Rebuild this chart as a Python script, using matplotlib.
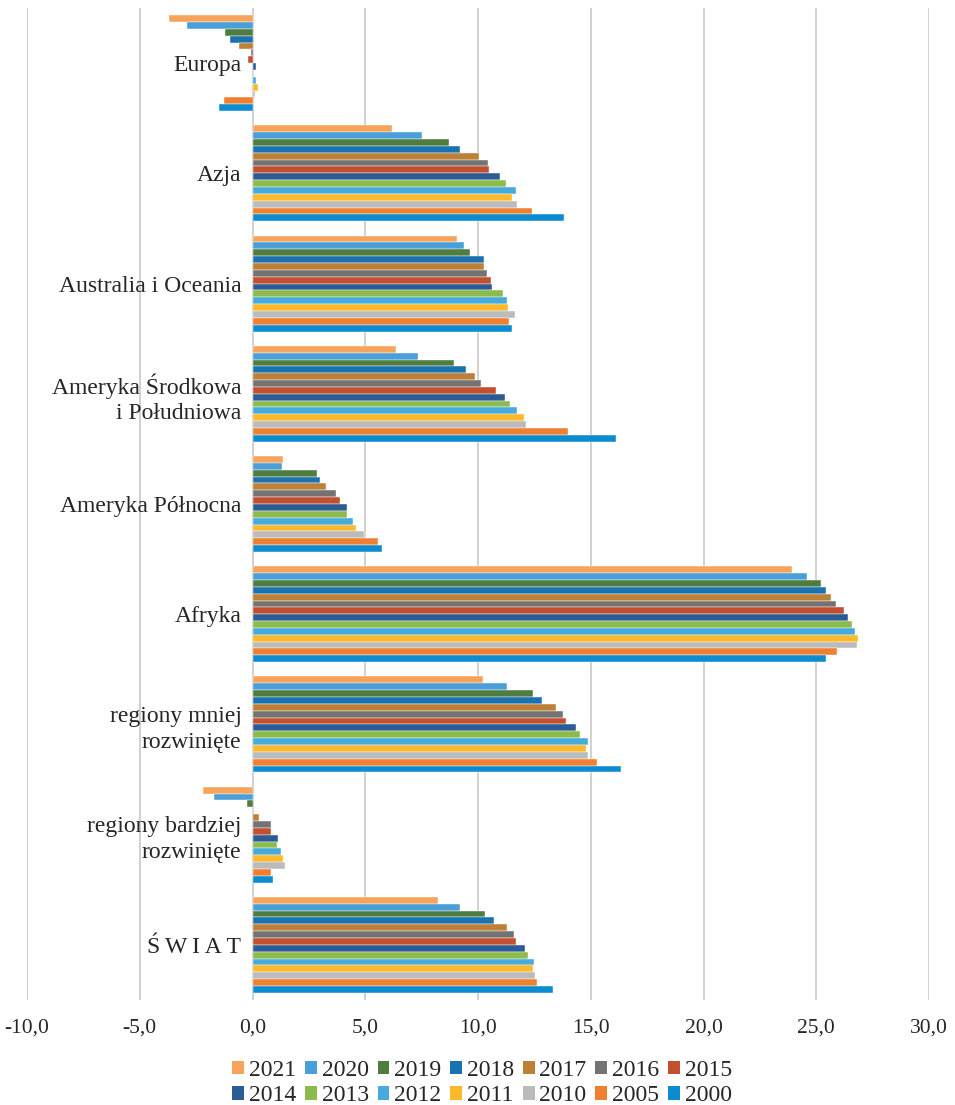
import matplotlib
matplotlib.use("Agg")
import matplotlib.pyplot as plt
from matplotlib.ticker import FuncFormatter, MultipleLocator
from matplotlib.patches import Patch
import numpy as np

plt.rcParams['font.family'] = ['Liberation Serif', 'DejaVu Serif']

categories = ["Europa", "Azja", "Australia i Oceania",
              "Ameryka Środkowa\ni Południowa", "Ameryka Północna", "Afryka",
              "regiony mniej\nrozwinięte", "regiony bardziej\nrozwinięte",
              "Ś\u2009W\u2009I\u2009A\u2009T"]

years = ["2021", "2020", "2019", "2018", "2017", "2016", "2015",
         "2014", "2013", "2012", "2011", "2010", "2005", "2000"]

colors = ["#F6A35C", "#4A9FD8", "#4F7D40", "#1B72B0", "#BE7F36", "#737373", "#C2502F",
          "#2B5C96", "#8CBA4B", "#45ABDD", "#FBB92B", "#BBBBBB", "#EF8031", "#0B8CD1"]

# values per category, in order of years above (2021 ... 2000)
europa = [-3.7, -2.9, -1.2, -1.0, -0.6, -0.05, -0.22, 0.16, 0.03, 0.15, 0.24, 0.13, -1.25, -1.47]
azja = [6.2, 7.5, 8.7, 9.2, 10.06, 10.44, 10.49, 10.99, 11.24, 11.68, 11.52, 11.74, 12.39, 13.8]
australia = [9.09, 9.39, 9.66, 10.25, 10.27, 10.41, 10.56, 10.60, 11.09, 11.28, 11.33, 11.64, 11.37, 11.52]
ameryka_sr = [6.37, 7.35, 8.95, 9.48, 9.88, 10.15, 10.80, 11.18, 11.42, 11.73, 12.06, 12.15, 14.01, 16.13]
ameryka_pn = [1.36, 1.32, 2.84, 2.99, 3.27, 3.70, 3.89, 4.19, 4.20, 4.47, 4.59, 4.95, 5.57, 5.73]
afryka = [23.91, 24.57, 25.19, 25.42, 25.65, 25.87, 26.22, 26.43, 26.59, 26.74, 26.83, 26.79, 25.94, 25.44]
mniej = [10.20, 11.30, 12.42, 12.86, 13.48, 13.78, 13.91, 14.33, 14.52, 14.86, 14.77, 14.89, 15.27, 16.32]
bardziej = [-2.21, -1.71, -0.25, 0.0, 0.31, 0.81, 0.83, 1.15, 1.09, 1.26, 1.36, 1.45, 0.83, 0.90]
swiat = [8.21, 9.20, 10.33, 10.73, 11.29, 11.60, 11.69, 12.07, 12.20, 12.49, 12.42, 12.52, 12.61, 13.34]

data = np.array([europa, azja, australia, ameryka_sr, ameryka_pn, afryka, mniej, bardziej, swiat])

fig = plt.figure(figsize=(9.55, 11.05), dpi=100)
ax = fig.add_axes([27/955, 1 - 1000/1105, (929 - 27)/955, (1000 - 8)/1105])

n_cat, n_ser = data.shape
group = 0.87
slot = group / n_ser
idx = np.arange(n_cat)
for j in range(n_ser):
    ypos = idx - group/2 + (j + 0.5) * slot
    ax.barh(ypos, data[:, j], height=slot, color=colors[j],
            edgecolor='white', linewidth=0.3, zorder=3)

ax.spines['left'].set_position(('data', 0))
for s in ['left', 'right', 'top', 'bottom']:
    ax.spines[s].set_visible(False)

ax.set_ylim(n_cat - 0.5, -0.5)
ax.set_xlim(-10, 30)
ax.xaxis.set_major_locator(MultipleLocator(5))
ax.xaxis.set_major_formatter(FuncFormatter(lambda v, p: f"{v:.1f}".replace('.', ',')))
ax.grid(axis='x', color='#C8C8C8', linewidth=1.2, zorder=0)
ax.grid(axis='y', visible=False)

ax.set_yticks(idx)
ax.set_yticklabels(categories, fontsize=17, color='#262626', linespacing=1.3)
ax.tick_params(axis='y', length=0, pad=8)
ax.tick_params(axis='x', length=0, pad=13, labelsize=15.5, labelcolor='#262626')

handles = [Patch(facecolor=c, edgecolor='none') for c in colors]
# reorder for row-major filling across 2 rows x 7 columns
order = []
for k in range(7):
    order += [k, k + 7]
leg = fig.legend([handles[i] for i in order], [years[i] for i in order],
                 loc='center', bbox_to_anchor=(482/955, 1 - 1083/1105),
                 ncol=7, frameon=False, fontsize=17,
                 handlelength=0.5, handleheight=0.5, handletextpad=0.2,
                 columnspacing=0.38, labelspacing=0.2, borderpad=0)
for t in leg.get_texts():
    t.set_color('#262626')

fig.savefig("out.png", dpi=100)
